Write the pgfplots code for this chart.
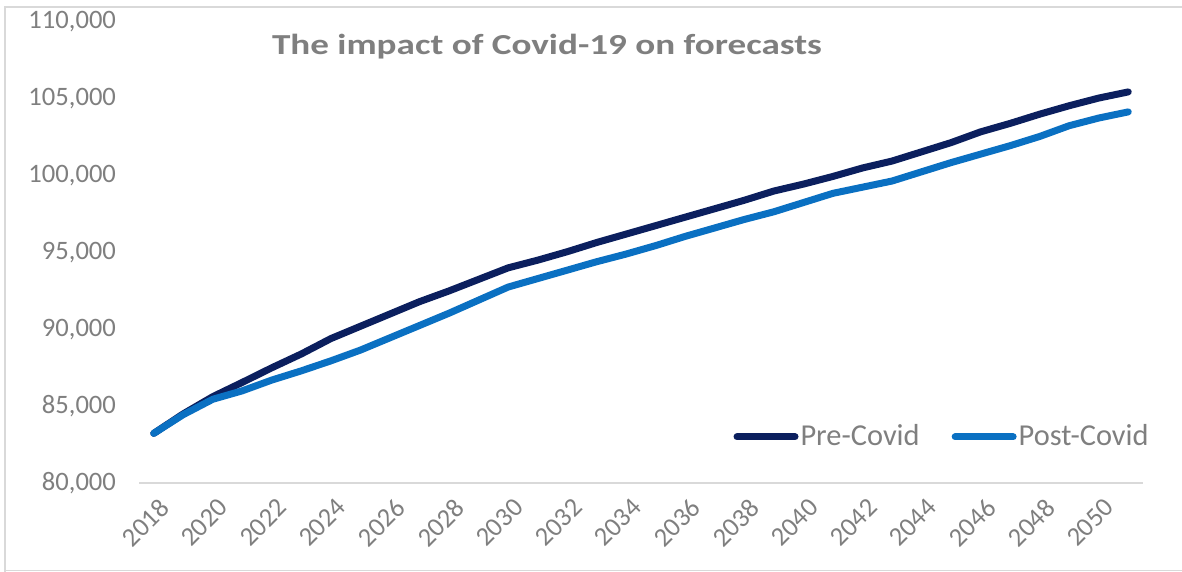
\documentclass[border=0pt]{standalone}
\usepackage{fontspec}
\setmainfont{Carlito}
\usepackage{pgfplots}
\pgfplotsset{compat=1.18}
\definecolor{predark}{HTML}{0B1F5E}
\definecolor{postblue}{HTML}{0A70C2}
\definecolor{txtgray}{HTML}{7F7F7F}
\definecolor{framegray}{HTML}{D9D9D9}
\begin{document}
\begin{tikzpicture}
\useasboundingbox (0pt,0pt) rectangle (591pt,286pt);
\draw[framegray, line width=1pt] (2.5pt,0pt) -- (2.5pt,282.5pt) -- (591pt,282.5pt);
\draw[framegray, line width=0.6pt] (2.5pt,0.75pt) -- (591pt,0.75pt);
\begin{axis}[
  at={(69.5pt,44.5pt)}, anchor=south west,
  scale only axis, width=502pt, height=230.5pt,
  xmin=2017.5, xmax=2051.5, ymin=80000, ymax=110000,
  xtick={2018,2020,...,2050}, ytick={80000,85000,...,110000},
  scaled y ticks=false,
  separate axis lines,
  axis x line*=bottom, axis y line*=left,
  x axis line style={framegray, line width=1pt, -},
  y axis line style={draw=none},
  tick style={draw=none},
  /pgf/number format/assume math mode=true,
  yticklabel style={font=\fontsize{13.3}{15}\selectfont, text=txtgray, xshift=-8pt,
    /pgf/number format/.cd, fixed, 1000 sep={,}},
  xticklabel style={rotate=45, anchor=north east, font=\fontsize{13.3}{15}\selectfont, text=txtgray,
    xshift=0pt, yshift=-3pt, /pgf/number format/.cd, fixed, 1000 sep={}},
  legend style={at={(1.014,0.1)}, anchor=east, draw=none, fill=none,
    font=\fontsize{15.2}{18}\selectfont, text=txtgray,
    nodes={inner sep=1pt},
    /tikz/every even column/.append style={column sep=15pt}},
  legend columns=2,
  legend image code/.code={\draw[#1, line cap=round] (0pt,0pt) -- (29pt,0pt);},
  clip=false,
]
\addplot[predark, line width=3.5pt, line cap=round, line join=round] coordinates {
(2018,83230) (2019,84500) (2020,85620) (2021,86550) (2022,87500) (2023,88400)
(2024,89400) (2025,90200) (2026,91000) (2027,91800) (2028,92500) (2029,93250)
(2030,94000) (2031,94500) (2032,95050) (2033,95650) (2034,96200) (2035,96750)
(2036,97300) (2037,97850) (2038,98400) (2039,99000) (2040,99450) (2041,99950)
(2042,100500) (2043,100950) (2044,101550) (2045,102150) (2046,102850) (2047,103400)
(2048,104000) (2049,104550) (2050,105050) (2051,105450)
};
\addlegendentry{Pre-Covid}
\addplot[postblue, line width=3.5pt, line cap=round, line join=round] coordinates {
(2018,83230) (2019,84450) (2020,85450) (2021,86000) (2022,86700) (2023,87300)
(2024,87950) (2025,88650) (2026,89450) (2027,90250) (2028,91050) (2029,91900)
(2030,92750) (2031,93300) (2032,93850) (2033,94400) (2034,94900) (2035,95450)
(2036,96050) (2037,96600) (2038,97150) (2039,97650) (2040,98250) (2041,98850)
(2042,99250) (2043,99650) (2044,100250) (2045,100850) (2046,101400) (2047,101950)
(2048,102550) (2049,103250) (2050,103750) (2051,104150)
};
\addlegendentry{Post-Covid}
\end{axis}
\node[font=\bfseries\fontsize{14.5}{18}\selectfont, text=txtgray, xscale=1.28] at (273.5pt,262.5pt) {The impact of Covid-19 on forecasts};
\end{tikzpicture}
\end{document}
